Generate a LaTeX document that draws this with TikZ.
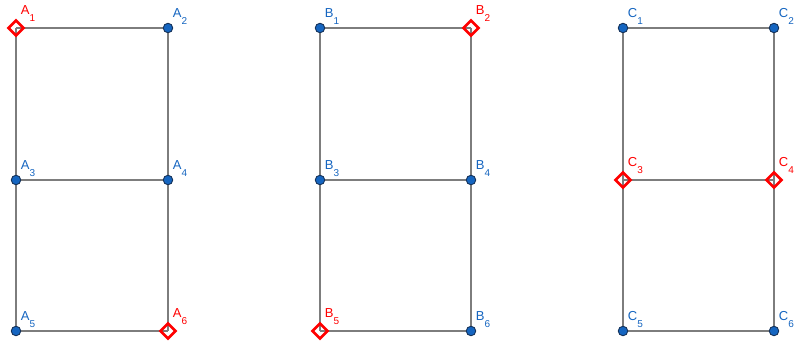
\documentclass[tikz,border=0pt]{standalone}
\usepackage{fontspec}
\setmainfont{Liberation Sans}
\definecolor{ptblue}{RGB}{21,101,192}
\definecolor{ptedge}{RGB}{20,50,90}
\definecolor{seg}{RGB}{125,125,125}
\definecolor{mark}{RGB}{255,0,0}
\tikzset{
  x=1pt, y=-1pt,
  segline/.style={draw=seg, line width=2.1pt},
  dotpt/.style={circle, fill=ptblue, draw=ptedge, line width=0.9pt, inner sep=0pt, minimum size=9.5pt},
  diapt/.style={diamond, draw=mark, line width=2.6pt, inner sep=0pt, minimum size=16pt},
  bluelab/.style={anchor=base west, text=ptblue, inner sep=0pt, font=\fontsize{13}{13}\selectfont},
  redlab/.style={anchor=base west, text=mark, inner sep=0pt, font=\fontsize{13}{13}\selectfont},
}
\usetikzlibrary{shapes.geometric}
\newcommand{\ptname}[2]{#1\raisebox{-7pt}{\fontsize{10}{10}\selectfont #2}}
\begin{document}
\begin{tikzpicture}
\useasboundingbox (0,0) rectangle (798,343);
% grid corners of the three ladders
\foreach \L/\xa/\xb in {A/16/168, B/320/471, C/623/774} {
  \coordinate (\L1) at (\xa,28);  \coordinate (\L2) at (\xb,28);
  \coordinate (\L3) at (\xa,180); \coordinate (\L4) at (\xb,180);
  \coordinate (\L5) at (\xa,331); \coordinate (\L6) at (\xb,331);
  \path[segline] (\L1) -- (\L2) (\L3) -- (\L4) (\L5) -- (\L6)
                 (\L1) -- (\L3) -- (\L5) (\L2) -- (\L4) -- (\L6);
}
% plain points
\foreach \p in {A2,A3,A4,A5,B1,B3,B4,B6,C1,C2,C5,C6} {
  \node[dotpt] (d\p) at (\p) {};
  \node[bluelab] (l\p) at ([xshift=4pt,yshift=11pt]\p) {};
}
\node[bluelab] at (lA2) {\ptname{A}{2}};
\node[bluelab] at (lA3) {\ptname{A}{3}};
\node[bluelab] at (lA4) {\ptname{A}{4}};
\node[bluelab] at (lA5) {\ptname{A}{5}};
\node[bluelab] at (lB1) {\ptname{B}{1}};
\node[bluelab] at (lB3) {\ptname{B}{3}};
\node[bluelab] at (lB4) {\ptname{B}{4}};
\node[bluelab] at (lB6) {\ptname{B}{6}};
\node[bluelab] at (lC1) {\ptname{C}{1}};
\node[bluelab] at (lC2) {\ptname{C}{2}};
\node[bluelab] at (lC5) {\ptname{C}{5}};
\node[bluelab] at (lC6) {\ptname{C}{6}};
% marked points
\foreach \p in {A1,A6,B2,B5,C3,C4} {
  \node[diapt] (d\p) at (\p) {};
  \node[redlab] (l\p) at ([xshift=4pt,yshift=14pt]\p) {};
}
\node[redlab] at (lA1) {\ptname{A}{1}};
\node[redlab] at (lA6) {\ptname{A}{6}};
\node[redlab] at (lB2) {\ptname{B}{2}};
\node[redlab] at (lB5) {\ptname{B}{5}};
\node[redlab] at (lC3) {\ptname{C}{3}};
\node[redlab] at (lC4) {\ptname{C}{4}};
\end{tikzpicture}
\end{document}
